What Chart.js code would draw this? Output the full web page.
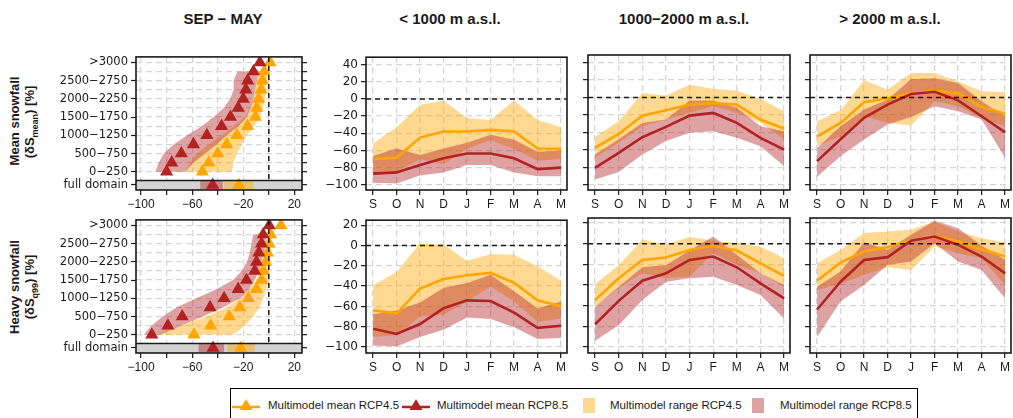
<!DOCTYPE html>
<html>
<head>
<meta charset="UTF-8">
<title>Snowfall change by month and elevation</title>
<script src="https://cdn.jsdelivr.net/npm/chart.js@4.4.1/dist/chart.umd.min.js"></script>
<style>
  body { margin: 0; width: 1013px; height: 418px; overflow: hidden; background: #fff;
         position: relative; font-family: "Liberation Sans", Arial, sans-serif; color: #1a1a1a; }
  canvas { position: absolute; }
  .title { position: absolute; top: 10px; font-weight: bold; font-size: 15px;
           transform: translateX(-50%); white-space: nowrap; }
  .ylab { position: absolute; font-weight: bold; font-size: 13px; white-space: nowrap;
          transform: translate(-50%, -50%) rotate(-90deg); }
  .ylab sub { font-size: 9px; }
  #legend { position: absolute; left: 230px; top: 388px; width: 688px; height: 40px;
            border: 1px solid #000; box-sizing: border-box; }
  #legend span { position: absolute; font-size: 11.5px; white-space: nowrap; }
  #legend svg { position: absolute; }
</style>
</head>
<body>

<div class="title" style="left:223px">SEP − MAY</div>
<div class="title" style="left:450px">&lt; 1000 m a.s.l.</div>
<div class="title" style="left:684px">1000−2000 m a.s.l.</div>
<div class="title" style="left:890px">&gt; 2000 m a.s.l.</div>

<div class="ylab" style="left:14px; top:121px">Mean snowfall</div>
<div class="ylab" style="left:31px; top:122px">(δS<sub>mean</sub>) [%]</div>
<div class="ylab" style="left:14px; top:287px">Heavy snowfall</div>
<div class="ylab" style="left:31px; top:287px">(δS<sub>q99</sub>) [%]</div>

<div id="legend">
  <svg style="left:1px; top:9px" width="28" height="14">
    <line x1="0" y1="9" x2="28" y2="9" stroke="#FFA500" stroke-width="2.5"/>
    <polygon points="14,1 20.5,12 7.5,12" fill="#FFA500"/>
  </svg>
  <span style="left:37px; top:10px">Multimodel mean RCP4.5</span>
  <svg style="left:171px; top:9px" width="28" height="14">
    <line x1="0" y1="9" x2="28" y2="9" stroke="#B22222" stroke-width="2.5"/>
    <polygon points="14,1 20.5,12 7.5,12" fill="#B22222"/>
  </svg>
  <span style="left:206px; top:10px">Multimodel mean RCP8.5</span>
  <svg style="left:352px; top:9px" width="12" height="15"><rect width="12" height="15" fill="rgba(255,165,0,0.43)"/></svg>
  <span style="left:379px; top:10px">Multimodel range RCP4.5</span>
  <svg style="left:521px; top:9px" width="12" height="15"><rect width="12" height="15" fill="rgba(178,34,34,0.42)"/></svg>
  <span style="left:549px; top:10px">Multimodel range RCP8.5</span>
</div>

<script>
// ---- categories / ticks ----
const MONTHS = ['S', 'O', 'N', 'D', 'J', 'F', 'M', 'A', 'M'];
const BANDS = ['0−250', '250−500', '500−750', '750−1000', '1000−1250', '1250−1500', '1500−1750',
               '1750−2000', '2000−2250', '2250−2500', '2500−2750', '2750−3000', '>3000'];
const FULL_LABEL = 'full domain';
const PCT_TICKS = [-100, -80, -60, -40, -20, 0, 20];
const PCT_LABELS = [-100, -60, -20, 20];
const TICKS_TOP = [-100, -80, -60, -40, -20, 0, 20, 40];
const TICKS_BOT = [-100, -80, -60, -40, -20, 0, 20];

// ---- SEP-MAY by elevation band, mean snowfall (index 0 = 0-250 ... 12 = >3000) ----
const meanElev45 = [-52, -47, -40, -33, -25, -16.7, -10.5, -9.4, -8, -6, -5, -3.5, 1];
const meanElev85 = [-80, -76, -68.5, -59, -48.5, -37, -30, -24, -20, -18, -16.5, -12, -7];
const meanElevLo45 = [-65.4, -61.5, -56.3, -47.2, -36.8, -27.6, -18.5, -14.6, -12, -10.7, -9.4, -8.1, null];
const meanElevHi45 = [-28.9, -27.6, -25, -21.1, -17.2, -11.5, -6.8, -4.7, -2.9, -2.1, -1.6, -0.3, null];
const meanElevLo85 = [-88.8, -86.2, -82.3, -74.5, -64, -52.4, -43.3, -35.4, -30.2, -27.6, -27.6, -24.5, null];
const meanElevHi85 = [-65.4, -58.9, -49.8, -40.7, -32.8, -23.7, -17.2, -14.1, -12, -10.7, -9.4, -8.1, null];
const meanFull45 = [-23.5, -35, -12];   // mean, min, max
const meanFull85 = [-44, -53.7, -36];

// ---- SEP-MAY by elevation band, heavy snowfall ----
const heavyElev45 = [-58.6, -45.5, -31, -22.7, -16, -9.6, -5.7, -4.4, -2.5, -1, 0.3, 1.4, 9.5];
const heavyElev85 = [-91.6, -79, -67.8, -46, -35, -24, -17.5, -11, -9.6, -7.8, -5.7, -4.4, 0.3];
const heavyElevLo45 = [-88, -68.6, -49, -33, -22.7, -15.4, -9.6, -6.5, -4.4, -2.5, -1.2, -0.4, null];
const heavyElevHi45 = [-28, -18.8, -12.2, -7.5, -4.4, -1.8, -0.4, 0.3, 1.4, 1.6, 2.2, 2.2, null];
const heavyElevLo85 = [-98, -92, -83, -72.5, -56.8, -41, -28, -21.4, -17, -14.9, -13.5, -12.2, null];
const heavyElevHi85 = [-85.6, -68.6, -51.5, -35.8, -22.7, -15.4, -11, -7.5, -5.7, -3.9, -2.5, -1.8, null];
const heavyFull45 = [-22, -32.4, -11];
const heavyFull85 = [-43.7, -55, -35];

// ---- monthly, mean snowfall ----
const meanLow45 = [-70, -68.4, -45, -38, -38, -36, -38, -57.8, -58];
const meanLow85 = [-87, -85.5, -77, -69, -63.5, -63.5, -69, -81.7, -80];
const meanLowLo45 = [-88, -85, -70, -76, -58, -48, -58, -72, -70];
const meanLowHi45 = [-52, -33, -7, -2, -22.4, -24.7, -2, -24.7, -33];
const meanLowLo85 = [-97.7, -98.5, -89, -85.5, -76.8, -76.8, -85.5, -90, -90];
const meanLowHi85 = [-66.5, -57.8, -65.4, -57.8, -51, -41.8, -47.5, -61.6, -60];

const meanMid45 = [-57.8, -41.8, -20.9, -14.8, -8.3, -6.4, -8.3, -25.4, -36];
const meanMid85 = [-80.6, -63.5, -45.6, -33.8, -20.9, -17.8, -29.2, -46.3, -59.7];
const meanMidLo45 = [-69, -52, -33, -25.4, -17.8, -10, -17.8, -29, -48];
const meanMidHi45 = [-45.2, -27.3, 5, 2, 14.5, 9.6, 7.7, -1.8, -15.9];
const meanMidLo85 = [-94, -85.5, -65.4, -50, -40.6, -38.7, -46.3, -55.8, -78.7];
const meanMidHi85 = [-65.4, -48, -29.2, -25.4, -3.7, -3.7, -12, -33, -38.7];

const meanHigh45 = [-45, -29.2, -5.6, -1.1, 4.6, 7.3, 4.6, -11, -18.6];
const meanHigh85 = [-73, -48, -23.5, -8.3, 3.8, 6.5, -3.4, -21.6, -40];
const meanHighLo45 = [-56, -44.4, -21.6, -29.2, -32.3, -4.5, -10, -23.5, -33];
const meanHighHi45 = [-27.3, -14.8, 19.5, 8.8, 27.8, 27.8, 18.3, 6.9, 5.8];
const meanHighLo85 = [-90.8, -67.3, -48.2, -31, -22.4, -10.2, -16, -25.4, -69];
const meanHighHi85 = [-57.8, -33, -14, -2.6, 21, 22, 16.4, -4.5, -21.6];

// ---- monthly, heavy snowfall ----
const heavyLow45 = [-63.7, -67, -42.3, -32.9, -29.3, -27, -36.8, -54, -60];
const heavyLow85 = [-82, -87, -77.3, -61.7, -54, -54.6, -66, -81, -79];
const heavyLowLo45 = [-90, -88, -70, -68, -55, -40, -55, -75, -72];
const heavyLowHi45 = [-39, -26, 2, 1, -15, -8.5, -9.2, -20.5, -35];
const heavyLowLo85 = [-98.4, -99.4, -90, -83, -70.8, -72.4, -80.5, -92, -91];
const heavyLowHi85 = [-67.6, -64, -56, -41.6, -36.8, -28.7, -45, -61.7, -55];

const heavyMid45 = [-54.6, -33.5, -15.7, -13.4, -6, -2, -6.6, -19, -31.2];
const heavyMid85 = [-78, -55.3, -35.8, -28.7, -15.7, -12.4, -22.8, -38.4, -53];
const heavyMidLo45 = [-61, -43, -28.7, -33.5, -32, -9, -20.5, -28.7, -41.6];
const heavyMidHi45 = [-39, -20.5, 3.8, -0.4, 6.4, 3.1, 0.5, -2.7, -14];
const heavyMidLo85 = [-94, -79, -54.6, -36.8, -33.5, -32, -40, -49.7, -72.4];
const heavyMidHi85 = [-61, -41.6, -22.8, -20.5, -6.6, 7, -10.8, -28.7, -40];

const heavyHigh45 = [-35.8, -18.2, -7.5, -3.2, 3, 7.5, 2.3, -5.3, -12.4];
const heavyHigh85 = [-63.7, -36.8, -15.7, -13, 3, 7, -1.1, -12.4, -28.7];
const heavyHighLo45 = [-45, -38.4, -30.3, -22.8, -25.4, -2.6, -9.2, -14, -40];
const heavyHighHi45 = [-19, -6, 10.3, 11.9, 13.5, 21.6, 11.9, 5.4, 1.5];
const heavyHighLo85 = [-90.3, -56, -40, -20.5, -17.3, 0.5, -17.3, -25.4, -53];
const heavyHighHi85 = [-41.6, -27, 1.5, -6, 8.6, 22.3, 15, -2, -15.7];

// ---- styling ----
const ORANGE = '#FFA500', RED = '#B22222';
const ORANGE_FILL = 'rgba(255,165,0,0.43)', RED_FILL = 'rgba(178,34,34,0.42)';
const GRID = '#d6d6d6', INK = '#1a1a1a';
const XFONT = { family: 'Liberation Sans, Arial, sans-serif', size: 12 };
const YFONT = { family: 'DejaVu Sans, sans-serif', size: 11.5 };
const MFONT = { family: 'DejaVu Sans, sans-serif', size: 12 };
const FULL_ROW = -1.45, STRIP_TOP = -0.95;

const ROWS = [{ top: 55, h: 135 }, { top: 218, h: 135 }];
const COLS = [{ left: 136, w: 166, ml: 106, mr: 14 }, { left: 366, w: 201, ml: 46, mr: 8 },
              { left: 588, w: 202, ml: 14, mr: 8 }, { left: 810, w: 201, ml: 14, mr: 8 }];
const MT = 8, MB = 24;

const fmt = v => (v < 0 ? '\u2212' + Math.abs(v) : String(v));
const fixTicks = list => scale => { scale.ticks = list.map(v => ({ value: v })); };

Chart.register({
  id: 'decor',
  beforeDatasetsDraw(chart, args, o) {
    if (!o.strip) return;
    const { ctx, chartArea: a, scales } = chart;
    const yTop = scales.y.getPixelForValue(STRIP_TOP);
    ctx.save();
    ctx.fillStyle = '#d3d3d3';
    ctx.fillRect(a.left, yTop, a.width, a.bottom - yTop);
    ctx.restore();
  },
  afterDatasetsDraw(chart, args, o) {
    const { ctx, chartArea: a, scales } = chart;
    ctx.save();
    ctx.strokeStyle = INK;
    ctx.lineWidth = 1.5;
    ctx.setLineDash([5, 4]);
    ctx.beginPath();
    if (o.strip) {
      const x = scales.x.getPixelForValue(0);
      ctx.moveTo(x, a.top);
      ctx.lineTo(x, scales.y.getPixelForValue(STRIP_TOP));
    } else {
      const y = scales.y.getPixelForValue(0);
      ctx.moveTo(a.left, y);
      ctx.lineTo(a.right, y);
    }
    ctx.stroke();
    ctx.setLineDash([]);
    ctx.lineWidth = 1.6;
    ctx.strokeRect(a.left, a.top, a.width, a.height);
    if (o.strip) {
      const yTop = scales.y.getPixelForValue(STRIP_TOP);
      ctx.beginPath();
      ctx.moveTo(a.left, yTop);
      ctx.lineTo(a.right, yTop);
      ctx.stroke();
    }
    ctx.restore();
  }
});

function makeCanvas(row, col) {
  const r = ROWS[row], c = COLS[col];
  const cv = document.createElement('canvas');
  cv.width = c.w + c.ml + c.mr;
  cv.height = r.h + MT + MB;
  cv.style.left = (c.left - c.ml) + 'px';
  cv.style.top = (r.top - MT) + 'px';
  document.body.appendChild(cv);
  return cv;
}

function shapePoints(lo, hi) {
  const left = [], right = [];
  lo.forEach((v, i) => { if (v !== null) left.push({ x: v, y: i }); });
  hi.forEach((v, i) => { if (v !== null) right.push({ x: v, y: i }); });
  return left.concat(right.reverse());
}

function boxPoints(full) {
  const [, lo, hi] = full;
  return [{ x: lo, y: FULL_ROW - 0.47 }, { x: hi, y: FULL_ROW - 0.47 },
          { x: hi, y: FULL_ROW + 0.47 }, { x: lo, y: FULL_ROW + 0.47 }];
}

function shapeSet(points, color, order) {
  return { data: points, fill: 'shape', backgroundColor: color, borderWidth: 0,
           pointRadius: 0, showLine: true, order };
}

function triSet(vals, full, color, order) {
  const pts = vals.map((v, i) => ({ x: v, y: i })).concat([{ x: full[0], y: FULL_ROW }]);
  return { data: pts, showLine: false, pointStyle: 'triangle', pointRadius: 7.6,
           pointBackgroundColor: color, pointBorderWidth: 0, order };
}

function elevChart(row, m45, m85, lo45, hi45, lo85, hi85, full45, full85) {
  const c = COLS[0];
  const rowsAll = BANDS.map((b, i) => i);
  new Chart(makeCanvas(row, 0), {
    type: 'line',
    data: {
      datasets: [
        shapeSet(shapePoints(lo45, hi45), ORANGE_FILL, 6),
        shapeSet(boxPoints(full45), ORANGE_FILL, 6),
        shapeSet(shapePoints(lo85, hi85), RED_FILL, 5),
        shapeSet(boxPoints(full85), RED_FILL, 5),
        triSet(m45, full45, ORANGE, 2),
        triSet(m85, full85, RED, 1)
      ]
    },
    options: {
      responsive: false, animation: false, events: [],
      layout: { padding: { top: MT, left: 0, right: 0, bottom: 0 } },
      plugins: { legend: { display: false }, tooltip: { enabled: false }, decor: { strip: true } },
      scales: {
        x: {
          type: 'linear', min: -104, max: 26,
          afterBuildTicks: fixTicks(PCT_TICKS),
          afterFit: s => { s.height = MB; },
          border: { display: false, dash: [6, 4] },
          grid: { color: GRID, lineWidth: 1.3, tickColor: INK, tickLength: 5, tickWidth: 1.2 },
          ticks: { font: XFONT, color: INK, padding: 2, autoSkip: false, maxRotation: 0,
                   callback: v => (PCT_LABELS.includes(v) ? fmt(v) : '') }
        },
        y: {
          type: 'linear', min: -2.0, max: 12.6, position: 'left',
          afterBuildTicks: fixTicks([FULL_ROW].concat(rowsAll.filter(i => i % 2 === 0))),
          afterFit: s => { s.width = c.ml; },
          border: { display: false },
          grid: { drawOnChartArea: false, tickColor: INK, tickLength: 5, tickWidth: 1.2 },
          ticks: { font: YFONT, color: INK, padding: 3, autoSkip: false,
                   callback: v => (v === FULL_ROW ? FULL_LABEL : BANDS[v]) }
        },
        y2: {
          type: 'linear', min: -2.0, max: 12.6, position: 'right',
          afterBuildTicks: fixTicks([FULL_ROW].concat(rowsAll)),
          afterFit: s => { s.width = c.mr; },
          border: { display: false, dash: [6, 4] },
          grid: { color: GRID, lineWidth: 1.3, tickColor: INK, tickLength: 5, tickWidth: 1.2 },
          ticks: { display: false }
        }
      }
    }
  });
}

function monthChart(row, col, m45, m85, lo45, hi45, lo85, hi85) {
  const c = COLS[col];
  const top = row === 0;
  const pts = arr => arr.map((v, i) => ({ x: i, y: v }));
  const band = (arr, color, fill, order) => ({ data: pts(arr), fill, backgroundColor: color,
    borderWidth: 0, pointRadius: 0, order });
  const line = (arr, color, order) => ({ data: pts(arr), fill: false, borderColor: color,
    borderWidth: 2.6, pointRadius: 0, order });
  new Chart(makeCanvas(row, col), {
    type: 'line',
    data: {
      datasets: [
        band(hi45, ORANGE_FILL, '+1', 6),
        band(lo45, ORANGE_FILL, false, 6),
        band(hi85, RED_FILL, '+1', 5),
        band(lo85, RED_FILL, false, 5),
        line(m45, ORANGE, 2),
        line(m85, RED, 1)
      ]
    },
    options: {
      responsive: false, animation: false, events: [],
      layout: { padding: { top: MT, left: 0, right: c.mr, bottom: 0 } },
      plugins: { legend: { display: false }, tooltip: { enabled: false }, decor: { strip: false } },
      scales: {
        x: {
          type: 'linear', min: -0.3, max: 8.25,
          afterBuildTicks: fixTicks(MONTHS.map((m, i) => i)),
          afterFit: s => { s.height = MB; },
          border: { display: false, dash: [6, 4] },
          grid: { color: GRID, lineWidth: 1.3, tickColor: INK, tickLength: 5, tickWidth: 1.2 },
          ticks: { font: XFONT, color: INK, padding: 2, autoSkip: false, maxRotation: 0,
                   callback: v => MONTHS[v] }
        },
        y: {
          type: 'linear', min: top ? -106 : -105.8, max: top ? 48.5 : 24.9,
          afterBuildTicks: fixTicks(top ? TICKS_TOP : TICKS_BOT),
          afterFit: s => { s.width = c.ml; },
          border: { display: false, dash: [6, 4] },
          grid: { color: GRID, lineWidth: 1.3, tickColor: INK, tickLength: 5, tickWidth: 1.2 },
          ticks: { display: col === 1, font: MFONT, color: INK, padding: 3, autoSkip: false,
                   callback: v => fmt(v) }
        }
      }
    }
  });
}

elevChart(0, meanElev45, meanElev85, meanElevLo45, meanElevHi45, meanElevLo85, meanElevHi85, meanFull45, meanFull85);
elevChart(1, heavyElev45, heavyElev85, heavyElevLo45, heavyElevHi45, heavyElevLo85, heavyElevHi85, heavyFull45, heavyFull85);

monthChart(0, 1, meanLow45, meanLow85, meanLowLo45, meanLowHi45, meanLowLo85, meanLowHi85);
monthChart(0, 2, meanMid45, meanMid85, meanMidLo45, meanMidHi45, meanMidLo85, meanMidHi85);
monthChart(0, 3, meanHigh45, meanHigh85, meanHighLo45, meanHighHi45, meanHighLo85, meanHighHi85);
monthChart(1, 1, heavyLow45, heavyLow85, heavyLowLo45, heavyLowHi45, heavyLowLo85, heavyLowHi85);
monthChart(1, 2, heavyMid45, heavyMid85, heavyMidLo45, heavyMidHi45, heavyMidLo85, heavyMidHi85);
monthChart(1, 3, heavyHigh45, heavyHigh85, heavyHighLo45, heavyHighHi45, heavyHighLo85, heavyHighHi85);
</script>
</body>
</html>
